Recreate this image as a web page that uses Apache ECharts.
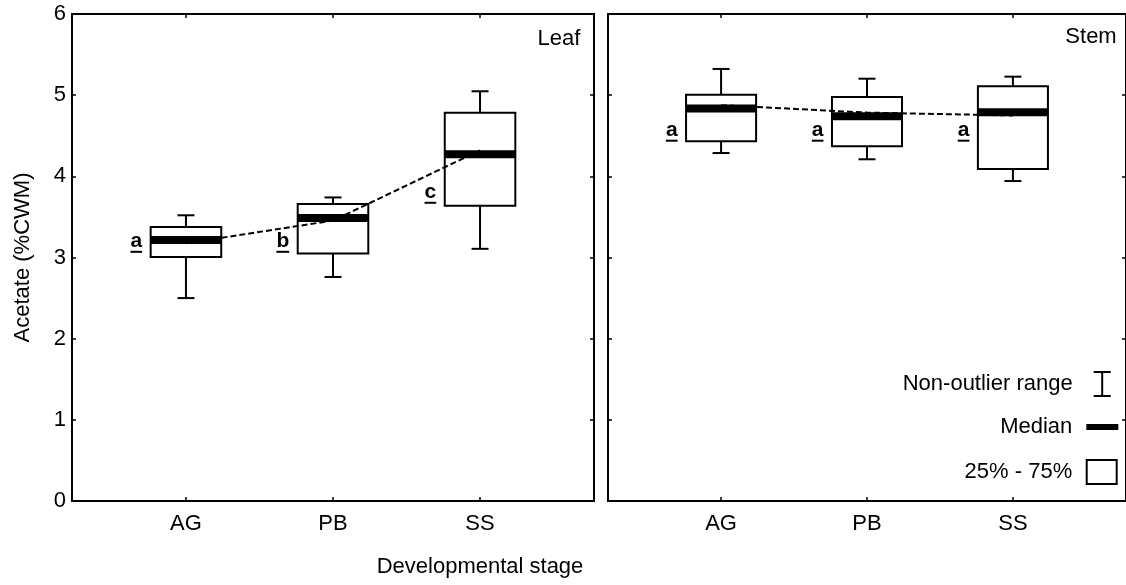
<!DOCTYPE html>
<html>
<head>
<meta charset="utf-8">
<script src="https://cdn.jsdelivr.net/npm/echarts@6/dist/echarts.min.js"></script>
<style>
html,body{margin:0;padding:0;background:#fff;}
#chart{width:1126px;height:585px;}
</style>
</head>
<body>
<div id="chart"></div>
<script>
// ---------- data ----------
const categories = ['AG', 'PB', 'SS'];
const panelNames = ['Leaf', 'Stem'];
// [lower whisker, 25%, median, 75%, upper whisker]
const leafBox = [
  [2.50, 3.005, 3.215, 3.375, 3.52],
  [2.76, 3.05, 3.486, 3.658, 3.74],
  [3.107, 3.637, 4.271, 4.784, 5.048]
];
const stemBox = [
  [4.287, 4.432, 4.836, 5.006, 5.323],
  [4.21, 4.37, 4.74, 4.978, 5.203],
  [3.942, 4.09, 4.789, 5.11, 5.228]
];
// dashed connecting line values
const leafMean = [3.175, 3.455, 4.32];
const stemMean = [4.877, 4.785, 4.75];
// significance letters and their baseline positions
const leafLetters = ['a', 'b', 'c'];
const leafLetterY = [3.112, 3.112, 3.716];
const stemLetters = ['a', 'a', 'a'];
const stemLetterY = [4.481, 4.481, 4.481];
const yTicks = [0, 1, 2, 3, 4, 5, 6];
const xTitle = 'Developmental stage';
const yTitle = 'Acetate (%CWM)';

// ---------- styling ----------
const FONT = '"Liberation Sans", Arial, Helvetica, sans-serif';
const FS = 22;
const BOX_W = 0.48;   // box width in category units
const CAP = 17;       // whisker cap width in px
const LW = 2;

const chart = echarts.init(document.getElementById('chart'), null, {renderer: 'canvas'});

const measureCtx = document.createElement('canvas').getContext('2d');
measureCtx.font = 'bold 21px ' + FONT;

function whiskerRender(params, api) {
  const x = api.value(0);
  const lo = api.coord([x, api.value(1)]);
  const hi = api.coord([x, api.value(5)]);
  const cx = lo[0];
  return {
    type: 'group',
    children: [
      {type: 'line', shape: {x1: cx, y1: lo[1], x2: cx, y2: hi[1]}, style: {stroke: '#000', lineWidth: LW}},
      {type: 'line', shape: {x1: cx - CAP / 2, y1: lo[1], x2: cx + CAP / 2, y2: lo[1]}, style: {stroke: '#000', lineWidth: LW}},
      {type: 'line', shape: {x1: cx - CAP / 2, y1: hi[1], x2: cx + CAP / 2, y2: hi[1]}, style: {stroke: '#000', lineWidth: LW}}
    ]
  };
}
function boxRender(params, api) {
  const x = api.value(0);
  const q1 = api.coord([x, api.value(2)]);
  const q3 = api.coord([x, api.value(4)]);
  const w = api.size([BOX_W, 0])[0];
  return {
    type: 'rect',
    shape: {x: q1[0] - w / 2, y: q3[1], width: w, height: q1[1] - q3[1]},
    style: {fill: '#fff', stroke: '#000', lineWidth: LW}
  };
}
function medianRender(params, api) {
  const x = api.value(0);
  const m = api.coord([x, api.value(3)]);
  const w = api.size([BOX_W, 0])[0];
  return {
    type: 'rect',
    shape: {x: m[0] - w / 2, y: m[1] - 4, width: w, height: 8},
    style: {fill: '#000'}
  };
}
function letterRenderer(letters) {
  return function (params, api) {
    const x = api.value(0);
    const p = api.coord([x, api.value(1)]);
    const w = api.size([BOX_W, 0])[0];
    const right = p[0] - w / 2 - 8.5;
    const txt = letters[params.dataIndex];
    const tw = measureCtx.measureText(txt).width;
    return {
      type: 'group',
      children: [
        {type: 'text', x: right, y: p[1] - 7.3,
         style: {text: txt, fill: '#000', font: 'bold 21px ' + FONT, align: 'right', verticalAlign: 'middle'}},
        {type: 'line', shape: {x1: right - tw, y1: p[1] + 3.4, x2: right, y2: p[1] + 3.4},
         style: {stroke: '#000', lineWidth: 2}}
      ]
    };
  };
}

function boxData(arr) { return arr.map((b, i) => [i].concat(b)); }

const series = [];
[[leafBox, leafMean, leafLetters, leafLetterY], [stemBox, stemMean, stemLetters, stemLetterY]].forEach((p, gi) => {
  const [boxes, means, letters, letterY] = p;
  const data = boxData(boxes);
  series.push({
    name: 'Non-outlier range', type: 'custom', xAxisIndex: gi, yAxisIndex: gi, z: 2,
    renderItem: whiskerRender, data: data, encode: {x: 0, y: [1, 2, 3, 4, 5]}, silent: true
  });
  series.push({
    name: '25% - 75%', type: 'custom', xAxisIndex: gi, yAxisIndex: gi, z: 3,
    renderItem: boxRender, data: data, encode: {x: 0, y: [1, 2, 3, 4, 5]}, silent: true
  });
  series.push({
    name: 'Mean line ' + panelNames[gi], type: 'line', xAxisIndex: gi, yAxisIndex: gi, z: 4,
    data: means.map((v, i) => [i, v]), symbol: 'none', silent: true,
    lineStyle: {color: '#000', width: 2, type: [6, 3]}
  });
  series.push({
    name: 'Median', type: 'custom', xAxisIndex: gi, yAxisIndex: gi, z: 5,
    renderItem: medianRender, data: data, encode: {x: 0, y: [1, 2, 3, 4, 5]}, silent: true
  });
  series.push({
    name: 'Letters ' + panelNames[gi], type: 'custom', xAxisIndex: gi, yAxisIndex: gi, z: 5,
    renderItem: letterRenderer(letters), data: letterY.map((v, i) => [i, v]),
    encode: {x: 0, y: 1}, silent: true
  });
});

const catIdx = categories.map((c, i) => i);
function xAx(gi, pos) {
  const bottom = pos === 'bottom';
  return {
    gridIndex: gi, type: 'value', position: pos, min: -0.775, max: 2.775,
    axisLine: {show: false, onZero: false}, splitLine: {show: false},
    axisTick: {show: true, inside: true, length: 4, customValues: catIdx, lineStyle: {color: '#000', width: 1.5}},
    axisLabel: {show: bottom, customValues: catIdx, formatter: v => categories[Math.round(v)],
      fontSize: FS, fontFamily: FONT, color: '#000', margin: 12}
  };
}
function yAx(gi, pos, labels) {
  const o = {
    gridIndex: gi, type: 'value', position: pos, min: yTicks[0], max: yTicks[yTicks.length - 1], interval: 1,
    axisLine: {show: false, onZero: false}, splitLine: {show: false},
    axisTick: {show: true, inside: true, length: 4, lineStyle: {color: '#000', width: 1.5}},
    axisLabel: {show: labels, fontSize: FS, fontFamily: FONT, color: '#000', margin: 6}
  };
  if (labels) {
    o.name = yTitle;
    o.nameLocation = 'middle';
    o.nameGap = 38;
    o.nameTextStyle = {fontSize: FS, fontFamily: FONT, color: '#000'};
  }
  return o;
}

const IBAR = 'path://M0,0H17V2H9.5V24H17V26H0V24H7.5V2H0Z';
const legendText = (pr) => ({fontSize: FS, fontFamily: FONT, color: '#000', padding: [0, pr, 0, 0]});

const option = {
  animation: false,
  backgroundColor: '#fff',
  grid: [
    {left: 72, top: 14, width: 522, height: 487, show: true, borderColor: '#000', borderWidth: 2, backgroundColor: 'transparent'},
    {left: 608, top: 14, width: 522, height: 487, show: true, borderColor: '#000', borderWidth: 2, backgroundColor: 'transparent'}
  ],
  xAxis: [xAx(0, 'bottom'), xAx(1, 'bottom'), xAx(0, 'top'), xAx(1, 'top')],
  yAxis: [yAx(0, 'left', true), yAx(1, 'left', false), yAx(0, 'right', false), yAx(1, 'right', false)],
  title: [
    {text: panelNames[0], right: 545.7, top: 28, padding: 0,
     textStyle: {fontSize: FS, fontFamily: FONT, fontWeight: 'normal', color: '#000'}},
    {text: panelNames[1], right: 9.3, top: 26, padding: 0,
     textStyle: {fontSize: FS, fontFamily: FONT, fontWeight: 'normal', color: '#000'}}
  ],
  legend: [
    {data: [{name: 'Non-outlier range', icon: IBAR, itemStyle: {color: '#000', borderWidth: 0}}],
     orient: 'vertical', align: 'right', right: 15.3, top: 371, padding: 0,
     itemWidth: 17, itemHeight: 26, selectedMode: false, textStyle: legendText(16)},
    {data: [{name: 'Median', icon: 'rect', itemStyle: {color: '#000', borderWidth: 0}}],
     orient: 'vertical', align: 'right', right: 7.7, top: 416, padding: 0,
     itemWidth: 32, itemHeight: 6, selectedMode: false, textStyle: legendText(9)},
    {data: [{name: '25% - 75%', icon: 'rect', itemStyle: {color: '#fff', borderColor: '#000', borderWidth: 2}}],
     orient: 'vertical', align: 'right', right: 8.3, top: 459, padding: 0,
     itemWidth: 30, itemHeight: 24, selectedMode: false, textStyle: legendText(9.5)}
  ],
  graphic: [
    {type: 'text', x: 480, y: 567, silent: true,
     style: {text: xTitle, fill: '#000', font: FS + 'px ' + FONT, align: 'center', verticalAlign: 'middle'}}
  ],
  series: series
};
chart.setOption(option);
</script>
</body>
</html>
